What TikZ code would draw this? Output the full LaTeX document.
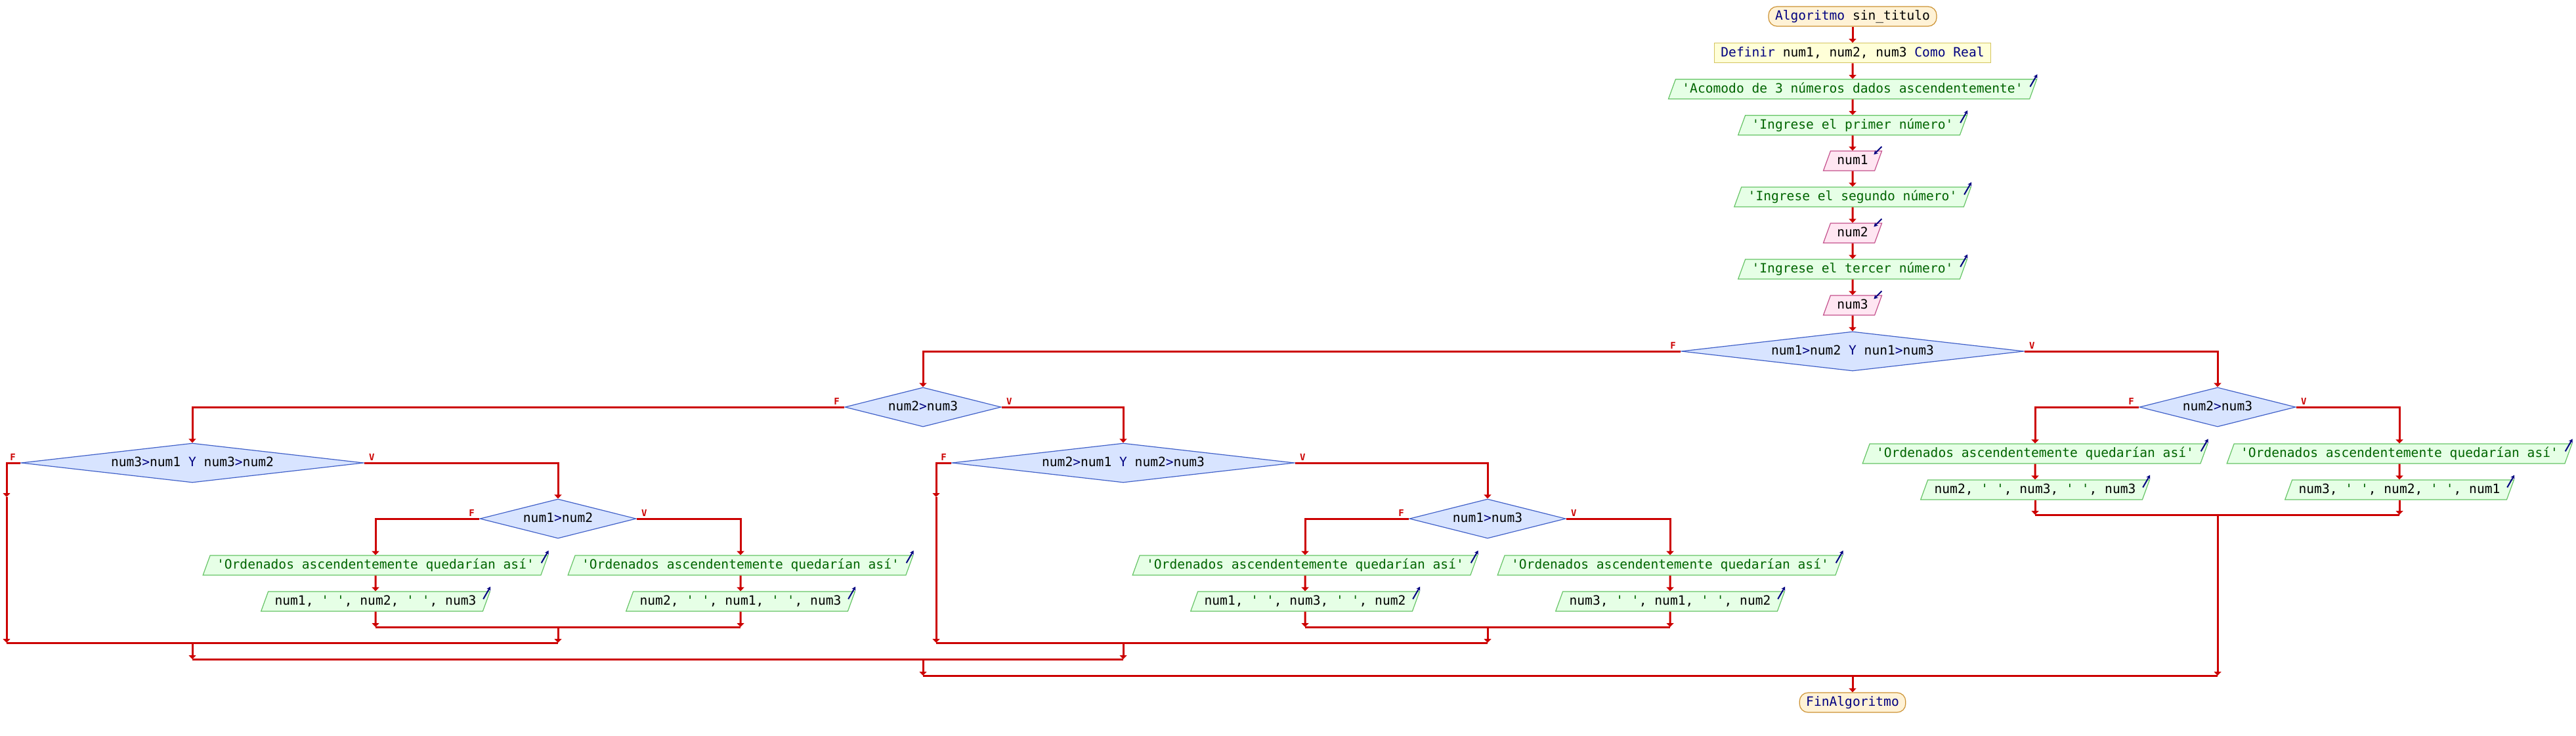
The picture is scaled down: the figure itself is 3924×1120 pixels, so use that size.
\documentclass[tikz,border=0pt]{standalone}
\usepackage{fontspec}
\setmonofont{DejaVu Sans Mono}
\usepackage{tikz}
\usetikzlibrary{
  arrows.meta,
  shapes.geometric,
  chains,
  positioning,
  scopes
}
\definecolor{flowred}{RGB}{204,0,0}
\definecolor{kwblue}{RGB}{0,0,128}
\definecolor{strgreen}{RGB}{0,100,0}
\definecolor{endfill}{RGB}{255,242,214}
\definecolor{enddraw}{RGB}{204,146,51}
\definecolor{deffill}{RGB}{255,255,216}
\definecolor{defdraw}{RGB}{212,196,96}
\definecolor{outfill}{RGB}{230,255,230}
\definecolor{outdraw}{RGB}{102,196,102}
\definecolor{infill}{RGB}{255,230,242}
\definecolor{indraw}{RGB}{196,80,140}
\definecolor{iffill}{RGB}{216,228,255}
\definecolor{ifdraw}{RGB}{64,96,200}
\newcommand\kwd[1]{\textcolor{kwblue}{#1}}
\newcommand\strg[1]{\textcolor{strgreen}{#1}}

\begin{document}
\begin{tikzpicture}[
      x=0.5pt, y=-0.5pt,
      every node/.style={
         font=\ttfamily\fontsize{9.8}{11}\selectfont,
         text height=7.84pt,
         text depth=1.96pt,
         inner xsep=5pt,
         inner ysep=2.6pt,
         line width=0.6pt
      },
      terminal/.style={
         rectangle,
         rounded corners=6.5pt,
         draw=enddraw,
         fill=endfill,
         text=kwblue
      },
      definition/.style={
         rectangle,
         draw=defdraw,
         fill=deffill
      },
      io/.style={
         trapezium,
         trapezium left angle=70,
         trapezium right angle=110
      },
      outputbox/.style={
         io, draw=outdraw, fill=outfill,
         append after command={
            ([shift={(-11,12)}]\tikzlastnode.top right corner)
            edge[icon] ([shift={(0,-7)}]\tikzlastnode.top right corner)
         }
      },
      inputbox/.style={
         io, draw=indraw, fill=infill,
         append after command={
            ([shift={(-1,-6)}]\tikzlastnode.top right corner)
            edge[icon] ([shift={(-13,6)}]\tikzlastnode.top right corner)
         }
      },
      decision/.style={
         diamond,
         draw=ifdraw,
         fill=iffill,
         inner sep=0pt,
         aspect=4,
         minimum width=119pt,
         minimum height=30pt
      },
      wide/.style={aspect=8, minimum width=261pt},
      flab/.style={
         text=flowred,
         font=\ttfamily\bfseries\fontsize{7}{8}\selectfont,
         inner sep=0pt,
         text height=5.1pt,
         text depth=0pt
      },
      point/.style={coordinate},
      icon/.style={draw=kwblue, line width=1pt, -{Stealth[length=3pt,width=3.2pt]}},
      >={Triangle[length=3pt,width=5.5pt]},
      tip/.style={->},
      every join/.style={draw=flowred, line width=1.5pt},
      hv path/.style={to path={-| (\tikztotarget)}}
    ]
    \useasboundingbox (0,0) rectangle (3924,1120);

    % columna principal
    \node (inicio) [terminal] at (2822,25) {\kwd{Algoritmo} \textcolor{black}{sin\_titulo}};
    \node (defs) [definition] at (2822,80.7) {\kwd{Definir} num1, num2, num3 \kwd{Como Real}};
    \node (msg1) [outputbox] at (2822,135.7) {\strg{'Acomodo de 3 números dados ascendentemente'}};
    \node (msg2) [outputbox] at (2822,190.7) {\strg{'Ingrese el primer número'}};
    \node (leer1) [inputbox] at (2822,245) {num1};
    \node (msg3) [outputbox] at (2822,300) {\strg{'Ingrese el segundo número'}};
    \node (leer2) [inputbox] at (2822,355) {num2};
    \node (msg4) [outputbox] at (2822,410) {\strg{'Ingrese el tercer número'}};
    \node (leer3) [inputbox] at (2822,465) {num3};
    \node (si1) [decision, wide] at (2822,535) {num1\kwd{>}num2 \kwd{Y} nun1\kwd{>}num3};

    % rama falso
    \node (si2) [decision] at (1406,620) {num2\kwd{>}num3};
    \node (si3) [decision, wide] at (293,705) {num3\kwd{>}num1 \kwd{Y} num3\kwd{>}num2};
    \node (si4) [decision] at (850,790) {num1\kwd{>}num2};
    \node (oA1) [outputbox] at (572,861) {\strg{'Ordenados ascendentemente quedarían así'}};
    \node (oA2) [outputbox] at (572,916) {num1, \strg{' '}, num2, \strg{' '}, num3};
    \node (oB1) [outputbox] at (1128,861) {\strg{'Ordenados ascendentemente quedarían así'}};
    \node (oB2) [outputbox] at (1128,916) {num2, \strg{' '}, num1, \strg{' '}, num3};
    \node (si5) [decision, wide] at (1711,705) {num2\kwd{>}num1 \kwd{Y} num2\kwd{>}num3};
    \node (si6) [decision] at (2266,790) {num1\kwd{>}num3};
    \node (oC1) [outputbox] at (1988,861) {\strg{'Ordenados ascendentemente quedarían así'}};
    \node (oC2) [outputbox] at (1988,916) {num1, \strg{' '}, num3, \strg{' '}, num2};
    \node (oD1) [outputbox] at (2544,861) {\strg{'Ordenados ascendentemente quedarían así'}};
    \node (oD2) [outputbox] at (2544,916) {num3, \strg{' '}, num1, \strg{' '}, num2};

    % rama verdadero
    \node (si7) [decision] at (3378,620) {num2\kwd{>}num3};
    \node (oE1) [outputbox] at (3100,691) {\strg{'Ordenados ascendentemente quedarían así'}};
    \node (oE2) [outputbox] at (3100,746) {num2, \strg{' '}, num3, \strg{' '}, num3};
    \node (oF1) [outputbox] at (3655,691) {\strg{'Ordenados ascendentemente quedarían así'}};
    \node (oF2) [outputbox] at (3655,746) {num3, \strg{' '}, num2, \strg{' '}, num1};

    \node (fin) [terminal] at (2822,1070) {FinAlgoritmo};

    % puntos de union
    \node (e3) [point] at (10,757) {};
    \node (e5) [point] at (1426,757) {};
    \node (j4a) [point] at (572,955) {};
    \node (j4b) [point] at (1128,955) {};
    \node (j4c) [point] at (850,955) {};
    \node (j3a) [point] at (10,979) {};
    \node (j3b) [point] at (850,979) {};
    \node (j3c) [point] at (293,979) {};
    \node (j6a) [point] at (1988,955) {};
    \node (j6b) [point] at (2544,955) {};
    \node (j6c) [point] at (2266,955) {};
    \node (j5a) [point] at (1426,979) {};
    \node (j5b) [point] at (2266,979) {};
    \node (j5c) [point] at (1711,979) {};
    \node (j2a) [point] at (293,1004) {};
    \node (j2b) [point] at (1711,1004) {};
    \node (j2c) [point] at (1406,1004) {};
    \node (j7a) [point] at (3100,784) {};
    \node (j7b) [point] at (3655,784) {};
    \node (j7c) [point] at (3378,784) {};
    \node (j1a) [point] at (1406,1029) {};
    \node (j1b) [point] at (3378,1029) {};
    \node (j1c) [point] at (2822,1029) {};

  { [start chain]
       \chainin (inicio);
       \chainin (defs)   [join=by tip];
       \chainin (msg1)   [join=by tip];
       \chainin (msg2)   [join=by tip];
       \chainin (leer1)  [join=by tip];
       \chainin (msg3)   [join=by tip];
       \chainin (leer2)  [join=by tip];
       \chainin (msg4)   [join=by tip];
       \chainin (leer3)  [join=by tip];
       \chainin (si1)    [join=by tip];
  }
  { [start chain]
       \chainin (si1);
       \chainin (si2)    [join=by {hv path,tip}];
       \chainin (si3)    [join=by {hv path,tip}];
       \chainin (e3)     [join=by {hv path,tip}];
       \chainin (j3a)    [join=by tip];
       \chainin (j3b)    [join];
  }
  { [start chain]
       \chainin (si3);
       \chainin (si4)    [join=by {hv path,tip}];
       \chainin (oA1)    [join=by {hv path,tip}];
       \chainin (oA2)    [join=by tip];
       \chainin (j4a)    [join=by tip];
       \chainin (j4b)    [join];
  }
  { [start chain]
       \chainin (si4);
       \chainin (oB1)    [join=by {hv path,tip}];
       \chainin (oB2)    [join=by tip];
       \chainin (j4b)    [join=by tip];
  }
  { [start chain]
       \chainin (j4c);
       \chainin (j3b)    [join=by tip];
  }
  { [start chain]
       \chainin (si2);
       \chainin (si5)    [join=by {hv path,tip}];
       \chainin (e5)     [join=by {hv path,tip}];
       \chainin (j5a)    [join=by tip];
       \chainin (j5b)    [join];
  }
  { [start chain]
       \chainin (si5);
       \chainin (si6)    [join=by {hv path,tip}];
       \chainin (oC1)    [join=by {hv path,tip}];
       \chainin (oC2)    [join=by tip];
       \chainin (j6a)    [join=by tip];
       \chainin (j6b)    [join];
  }
  { [start chain]
       \chainin (si6);
       \chainin (oD1)    [join=by {hv path,tip}];
       \chainin (oD2)    [join=by tip];
       \chainin (j6b)    [join=by tip];
  }
  { [start chain]
       \chainin (j6c);
       \chainin (j5b)    [join=by tip];
  }
  { [start chain]
       \chainin (j3c);
       \chainin (j2a)    [join=by tip];
       \chainin (j2b)    [join];
  }
  { [start chain]
       \chainin (j5c);
       \chainin (j2b)    [join=by tip];
  }
  { [start chain]
       \chainin (j2c);
       \chainin (j1a)    [join=by tip];
       \chainin (j1b)    [join];
  }
  { [start chain]
       \chainin (si1);
       \chainin (si7)    [join=by {hv path,tip}];
       \chainin (oE1)    [join=by {hv path,tip}];
       \chainin (oE2)    [join=by tip];
       \chainin (j7a)    [join=by tip];
       \chainin (j7b)    [join];
  }
  { [start chain]
       \chainin (si7);
       \chainin (oF1)    [join=by {hv path,tip}];
       \chainin (oF2)    [join=by tip];
       \chainin (j7b)    [join=by tip];
  }
  { [start chain]
       \chainin (j7c);
       \chainin (j1b)    [join=by tip];
  }
  { [start chain]
       \chainin (j1c);
       \chainin (fin)    [join=by tip];
  }

    % etiquetas F / V
    \foreach \d in {si1,si2,si3,si4,si5,si6,si7} {
       \node (\d-F) [flab, above left=1.5pt and 3.5pt of \d.west] {F};
       \node (\d-V) [flab, above right=1.5pt and 3.5pt of \d.east] {V};
    }
\end{tikzpicture}
\end{document}
